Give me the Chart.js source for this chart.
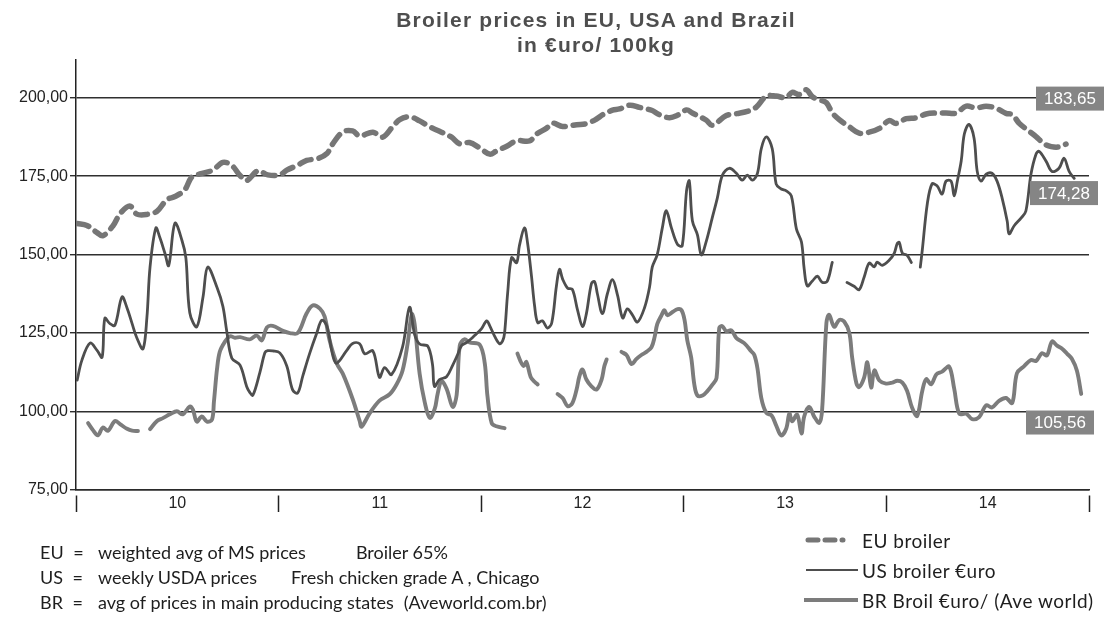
<!DOCTYPE html>
<html>
<head>
<meta charset="utf-8">
<script src="https://cdn.jsdelivr.net/npm/chart.js@4.4.1/dist/chart.umd.min.js"></script>
<style>
  html, body { margin: 0; padding: 0; background: #fff; }
  #wrap { position: relative; width: 1109px; height: 621px; overflow: hidden; }
  #c { position: absolute; left: 0; top: 0; }
  .title { position: absolute; left: 596px; top: 7px; transform: translateX(-50%); text-align: center;
           font-family: 'Liberation Sans', Arial, sans-serif; font-weight: bold; font-size: 21px;
           line-height: 25px; color: #4e4e4e; white-space: nowrap; letter-spacing: 1.2px; }
  .notes { position: absolute; left: 40px; top: 540px; font-family: Lato, 'Liberation Sans', sans-serif;
           font-size: 18px; line-height: 25px; color: #1e1e1e; white-space: pre; }
  .notes .line { display: flex; height: 25px; }
  .notes .lab { width: 58px; word-spacing: 5px; }
  .notes .gap { display: inline-block; }
  .legend { position: absolute; left: 804px; top: 525px; font-family: Lato, 'Liberation Sans', sans-serif;
            font-size: 19px; color: #1e1e1e; letter-spacing: 0.5px; }
  .legend .row { height: 30px; display: flex; align-items: center; white-space: nowrap; }
  .legend svg { width: 56px; height: 12px; margin-right: 2px; }
</style>
</head>
<body>
<div id="wrap">
  <canvas id="c" width="1109" height="621"></canvas>
  <div class="title" id="title"></div>
  <div class="notes" id="notes"></div>
  <div class="legend" id="legend"></div>
</div>
<script>
// ---------- text ----------
const titleLines = ['Broiler prices in EU, USA and Brazil', 'in €uro/ 100kg'];
const noteLabels = ['EU =', 'US =', 'BR ='];
const noteFirst = ['weighted avg of MS prices', 'weekly USDA prices', 'avg of prices in main producing states'];
const noteSecond = ['Broiler 65%', 'Fresh chicken grade A , Chicago', '(Aveworld.com.br)'];
const seriesNames = ['EU broiler', 'US broiler €uro', 'BR Broil €uro/ (Ave world)'];
const yearLabels = ['10', '11', '12', '13', '14'];
const tickWeeks = [0, 26, 52, 78, 104, 130, 156, 182, 208, 234, 260];
const endLabelTexts = ['183,65', '174,28', '105,56'];
const endLabelLevels = [199.7, 169.6, 96.5];

// ---------- data (x = week since start of 2010, y = €/100kg) ----------
const euWeeks = [0.3,2.8,5.4,6.9,9.5,11.3,13.8,15.6,18.2,20.8,
  23.3,25.4,27.9,29.7,31.8,35.1,37.7,40,42.1,43.8,
  46.7,49.2,52.3,54.1,56.9,59.2,62.1,64.4,65.9,68.5,
  71,72.8,76.2,78.7,81.3,83.1,85.6,88.2,90.8,93.3,
  96.4,98.5,101,103.6,106.2,107.9,110.8,113.1,116.4,118.2,
  120.8,122.3,124.9,128.5,131,133.6,135.1,137.7,139.5,142.1,
  144.6,147.9,149.7,152.3,154.1,156.7,158.2,161.8,163.3,166.9,
  169.5,172.8,174.6,177.2,179.7,182.3,183.8,185.6,187.4,189,
  190.8,192.6,194.1,195.9,198.5,201,203.6,206.2,208.7,210.5,
  213.1,215.6,218.2,220.8,223.3,225.9,228.5,231,233.6,236.2,
  238.7,240.3,242.1,244.1,246.4,248.5,250.3,252.3,254.1];
const euValues = [159.9,159.3,157,156,159.2,163,165.5,162.9,162.8,163.8,
  167.5,168.5,170.6,174.7,175.7,176.9,179.4,178.4,175.2,173.6,
  176.7,175.4,175.4,176.9,178.5,180,180.6,182.2,185.3,189.1,
  189.4,187.8,189,187.4,190.8,193,193.9,192.6,190.7,189.3,
  187.4,185.3,185.7,184,182,183,184.7,186.3,186.2,188.4,
  190.3,191.9,190.8,191.4,191.7,193.2,194.5,196,196.4,197.6,
  196.9,195.9,194.6,193.6,194.2,196.1,195.1,192.8,191.2,194.3,
  194.9,195.8,197,200.5,200.5,200,201.7,201,202.5,200.3,
  199.3,198.4,195.2,193,190.7,188.7,189,190.2,192.7,191.8,
  193.3,193.6,194.8,195.1,195.1,195.1,197.3,196.7,197.3,196.6,
  195,194.6,191.8,189.8,187.6,185.3,184.4,184.3,185.2];

const usWeeks = [0.3,1.5,3.6,5.4,6.7,7.4,8.7,10,11.8,13.1,
  14.4,15.6,17.2,18.2,19,20.5,21.5,22.8,23.8,25.4,
  27.2,28.2,29.2,31,32.6,33.8,36.2,37.7,38.7,40,
  42.1,43.8,44.6,45.4,47.2,48.5,49.2,50.5,52.3,54.1,
  55.6,56.9,58.2,60,61.8,63.1,64.4,65.9,66.9,69.5,
  71,72.8,74.1,76.2,77.9,79.2,81,83.8,85.6,86.9,
  88.2,90.3,91.5,92,93.3,95.1,96.7,97.9,99,100.3,
  102.3,104.1,105.4,106.2,107.4,108.7,109.5,110,110.8,111.8,
  113.1,113.8,115.1,115.9,116.9,117.7,118.5,119.7,121,122.1,
  123.3,124.1,124.9,126.2,127.4,128.7,130,131,132.3,133.1,
  133.8,135.1,136.4,137.7,139,140.3,141.5,142.8,144.1,145.9,
  147.2,147.9,149.2,150.5,151.5,152.8,154.4,155.6,156.7,157.4,
  158.2,159.5,160.5,161.8,163.3,164.6,165.9,167.7,169.5,171,
  172.3,173.6,174.9,175.9,177.2,178.7,179.7,181,182.3,183.6,
  184.9,186.2,186.9,187.7,189,190.3,191.5,192.8,194.1,196,
  197.9,199.7,201,202.3,203.6,204.9,205.6,206.9,208.7,210,
  210.8,211.3,212.1,213.3,214.4,215.5,216.7,217.2,218.5,219.7,
  221,222.3,223.3,224.6,225.4,226.2,227.2,228,229.2,230.5,
  231.3,232.3,233.6,235.1,236.4,237.7,239,239.5,240.8,242.6,
  243.8,245.1,246.4,247.2,249,250.5,252.3,253.6,254.9,256.2];
const usValues = [110,116.3,121.8,119.5,117.3,129.7,128,127.5,136.5,133,
  128,123.5,120,130,146,158.5,155.5,150.5,146.5,160,
  154.5,149,131.5,127,136.5,146,139.5,133.5,125.5,117,
  114.8,108,106.1,105.2,112.5,118.8,119.4,119.3,118.7,114.5,
  106.9,105.9,111.3,118.6,125,129.1,127.2,117.9,115.4,119.5,
  121.7,121.6,118.4,119.3,110.9,114,111.8,120.5,133.2,124.6,
  121.5,120.8,115,108,110.2,111.1,114.8,118,121.1,122,
  124.2,126.4,128.9,127.3,124.1,121.6,122.5,125,137.9,149,
  147.4,152.8,158.5,153.7,143.2,133.7,128.3,128.9,126.6,128.2,
  139.9,145.3,142.2,139.3,138.9,132.5,127.1,131.2,140.8,141.4,
  137.6,131.2,137.6,142,137,129.8,132.7,130.8,128.5,133,
  139.6,146,150.1,158.6,164,158.6,153.2,152.8,170.3,173.5,
  160.8,156.3,149.9,154.4,161.7,168,175.3,177.5,175.9,173.7,
  175.3,173.7,175.9,183.8,187.5,183.7,172.5,170.9,170.3,168.7,
  158.2,154,145.4,140,141.6,143.1,141.2,141.5,147.5,null,
  141.1,139.9,138.8,142.9,147.3,146.1,147.6,146.6,148.2,150.4,
  153.6,153.9,150.4,149.8,147.5,null,146,151.3,166.2,172.5,
  171.9,169.3,173.4,173.4,168.7,173.4,179.8,188.4,191.5,187.1,
  176.6,173.4,175.6,175.9,173.4,168,160.7,156.6,159.2,161.7,
  163.9,175.6,182,182.9,179.7,176.5,177.5,180.7,176.5,174.3];

const brWeeks = [3.1,4.4,5.6,6.9,8.2,10,11.3,13.1,14.4,15.9,
  16.8,19,20.8,22.3,24.1,25.9,27.4,29.2,30,31,
  32.3,33.6,34.9,35.4,36.2,36.9,38.2,39.5,40.8,42.1,
  44.6,46.4,47.7,49,50.5,53.1,54.9,56.9,59.2,60.8,
  62.6,63.8,65.1,66.9,68.5,71,72.8,73.3,75.4,77.9,
  80.5,82.3,83.8,85.1,86.2,86.9,88.2,89.5,90.8,92.1,
  92.8,93.8,95.1,96.7,97.7,98.5,99.7,101,103.6,104.9,
  105.6,106.7,107.9,110,112,113.3,114.1,114.9,115.6,116.7,
  117.7,118.5,121,123.6,124.9,126.2,127.4,128.5,129.2,130,
  131,132.3,133.6,134.9,135.6,136.2,138,140,141.3,142.6,
  143.8,145.1,146.4,147.7,148.5,149.2,150.3,151,151.8,153.1,
  154.4,155.4,156.2,156.9,157.9,158.7,159.5,160.8,162.1,163.3,
  164.4,165.1,165.9,166.9,168.2,169.5,171.5,173.3,174.1,174.9,
  175.9,177.2,178.5,179.7,181,182.3,183.1,183.8,185.1,186.2,
  186.9,188.2,189.5,190.8,191.5,192.6,193.3,194.6,195.9,197.2,
  198.5,199.2,200.3,201,202.3,203.1,204.1,204.9,206.2,207.9,
  209.5,210.8,212.1,213.3,214.6,215.9,217.2,218.2,219.5,220.8,
  222.3,224.1,225.4,226.7,228.5,230,231.8,233.6,235.1,236.9,
  238.7,240.3,241.5,243.3,245.1,246.4,247.9,249.2,250.5,251.8,
  253.1,254.4,255.6,256.9,258];
const brValues = [96.3,94,92.4,94.9,93.9,97,96,94.5,93.9,93.8,
  null,94.4,97,97.9,99.1,100.1,99.1,101.6,100.6,96.8,
  98.4,96.8,97.4,103.1,113.6,119,122.2,124,123.5,123.7,
  123,124.2,122.7,126.8,127.3,125.7,125,125,131.3,133.8,
  132.8,130.3,122.6,115.4,112,104,97,95.2,99.5,103.5,
  105.5,108.7,113,121.5,131,128,112,103,98,101,
  105.5,109.7,107.3,101.5,105.3,121,123,122,121.3,115.5,
  105,96.3,95.3,94.7,null,118.5,116,114.5,115.8,111,
  109.5,108.6,null,105.6,104.3,101.7,102.7,107.1,111.2,113.4,
  110.2,108,107,110.2,114.4,116.6,null,119,118,115.1,
  116.7,118,119,120.5,123.7,127.9,130.7,132.3,130.7,131.7,
  132.6,132.3,129.1,122.7,117.2,108.6,105.1,105.1,106.6,108.5,
  110.7,126.6,127.2,125.6,125.9,123.4,121.8,119.2,118,113.8,
  104.3,99.5,98.8,95.6,92.4,94.6,99.4,96.9,99,93,
  98.4,101.5,98.3,96.4,100.5,128.2,130.8,127,129.2,128.6,
  125,117.3,109,107.8,110.9,115.7,107.7,113.1,109.9,108.9,
  109.2,109.8,109.2,106.6,101.2,98.6,106.5,110.3,108.7,111.8,
  112.7,114.3,107.3,99.3,99.3,97.6,98.2,102,101.3,103.4,
  104.3,102.7,112.2,114.4,116.4,116.1,118.6,117.9,122.3,121,
  120,118.4,116.8,113,105.6];

// ---------- helpers ----------
const pts = (xs, ys) => xs.map((x, i) => ({ x: x, y: ys[i] }));
const fmt = v => Number(v).toFixed(2).replace('.', ',');
const tickFont = "'Liberation Sans', Arial, sans-serif";

const styles = [
  { color: '#767676', width: 5.5, dash: [12, 8] },
  { color: '#4e4e4e', width: 2.8, dash: [] },
  { color: '#7c7c7c', width: 3.9, dash: [] }
];

// ---------- HTML text ----------
document.getElementById('title').innerHTML = titleLines.join('<br>');
const noteGaps = [50, 34, 10];
document.getElementById('notes').innerHTML = noteLabels.map((l, i) =>
  '<div class="line"><span class="lab">' + l + '</span><span>' + noteFirst[i] +
  '</span><span class="gap" style="width:' + noteGaps[i] + 'px"></span><span>' + noteSecond[i] + '</span></div>').join('');
const legendSamples = [
  '<svg viewBox="0 0 56 12"><line x1="4" y1="6" x2="52" y2="6" stroke="#767676" stroke-width="5" stroke-linecap="round" stroke-dasharray="10 7 10 7 1 100"/></svg>',
  '<svg viewBox="0 0 56 12"><line x1="2" y1="6" x2="54" y2="6" stroke="#4e4e4e" stroke-width="2"/></svg>',
  '<svg viewBox="0 0 56 12"><line x1="0" y1="6" x2="54" y2="6" stroke="#7c7c7c" stroke-width="4"/></svg>'
];
document.getElementById('legend').innerHTML = seriesNames.map((n, i) =>
  '<div class="row">' + legendSamples[i] + '<span>' + n + '</span></div>').join('');

// ---------- end value labels ----------
const endLabelPlugin = {
  id: 'endLabels',
  afterDatasetsDraw(chart) {
    const { ctx, chartArea, scales } = chart;
    const shifts = [15, 9, 5];
    ctx.save();
    ctx.font = "17px 'Liberation Sans', Arial, sans-serif";
    ctx.textAlign = 'center';
    ctx.textBaseline = 'middle';
    endLabelTexts.forEach((t, i) => {
      const cy = scales.y.getPixelForValue(endLabelLevels[i]);
      const w = ctx.measureText(t).width + 16;
      const h = 24;
      const right = chartArea.right + shifts[i];
      ctx.fillStyle = '#858585';
      ctx.fillRect(right - w, cy - h / 2, w, h);
      ctx.fillStyle = '#ffffff';
      ctx.fillText(t, right - w / 2, cy + 1);
    });
    ctx.restore();
  }
};

// ---------- chart ----------
const seriesData = [pts(euWeeks, euValues), pts(usWeeks, usValues), pts(brWeeks, brValues)];
new Chart(document.getElementById('c').getContext('2d'), {
  type: 'line',
  data: {
    datasets: seriesData.map((d, i) => ({
      label: seriesNames[i],
      data: d,
      borderColor: styles[i].color,
      borderWidth: styles[i].width,
      borderDash: styles[i].dash,
      borderCapStyle: 'round',
      borderJoinStyle: 'round',
      pointRadius: 0,
      tension: 0.35,
      spanGaps: false,
      fill: false
    }))
  },
  options: {
    responsive: false,
    animation: false,
    events: [],
    layout: { padding: { left: 0, right: 20, top: 60, bottom: 99 } },
    plugins: { legend: { display: false }, title: { display: false }, tooltip: { enabled: false } },
    scales: {
      x: {
        type: 'linear', min: 0, max: 260,
        afterBuildTicks: s => { s.ticks = tickWeeks.map(v => ({ value: v })); },
        afterFit: s => { s.height = 32; },
        grid: {
          drawOnChartArea: false, drawTicks: true, tickLength: 22, tickWidth: 1.5,
          tickBorderDash: [0, 5, 20],
          tickColor: c => (c.tick && c.tick.value % 52 === 0) ? '#222' : 'rgba(0,0,0,0)'
        },
        border: { display: true, color: '#2a2a2a', width: 1.5 },
        ticks: {
          autoSkip: false, maxRotation: 0, padding: -18, color: '#222',
          font: { family: tickFont, size: 16 },
          callback: v => (v % 52 === 26) ? yearLabels[(v - 26) / 52] : ''
        }
      },
      y: {
        min: 75, max: 212,
        afterFit: s => { s.width = 76; },
        ticks: {
          stepSize: 25, includeBounds: false, padding: 2, color: '#222',
          font: { family: tickFont, size: 16 },
          callback: v => fmt(v)
        },
        grid: { color: '#2f2f2f', lineWidth: 1.4, tickLength: 6 },
        border: { display: true, color: '#222', width: 1.5 }
      }
    }
  },
  plugins: [endLabelPlugin]
});
</script>
</body>
</html>
